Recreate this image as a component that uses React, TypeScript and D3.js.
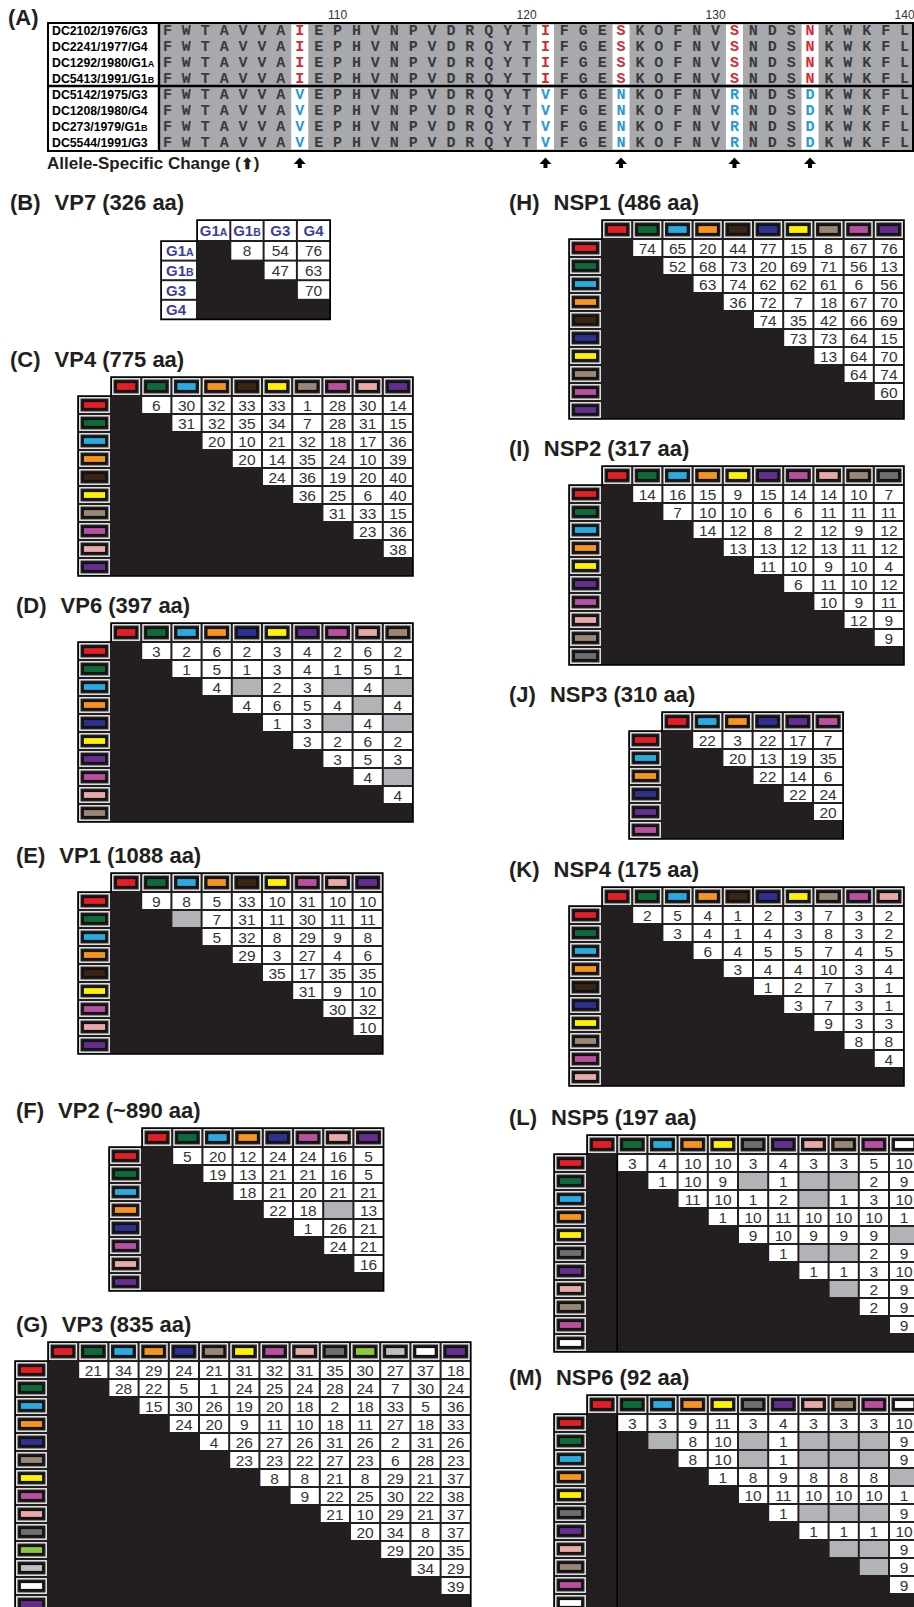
import React from "react";
import * as d3 from "d3";

// ---- panel A: alignment (residues 101-140) ----
const residues = "FWTAVVAIEPHVNPVDRQYTIFGESKOFNVSNDSNKWKFL".split("");
const firstResidue = 101;
const positionTicks = [110, 120, 130, 140];
const group1Strains = ["DC2102/1976/G3", "DC2241/1977/G4", "DC1292/1980/G1A", "DC5413/1991/G1B"];
const group2Strains = ["DC5142/1975/G3", "DC1208/1980/G4", "DC273/1979/G1B", "DC5544/1991/G3"];
const alleleSites = [108, 121, 125, 131, 135];
const group1Alleles = ["I", "I", "S", "S", "N"];
const group2Alleles = ["V", "V", "N", "R", "D"];

// ---- panel B: VP7 ----
const vp7Types = ["G1A", "G1B", "G3", "G4"];
const vp7Values = [[8, 54, 76], [47, 63], [70]];

// ---- gene segment allele matrices (upper triangle, null = grey cell) ----
const vp4Alleles = ["red", "green", "cyan", "orange", "brown", "yellow", "tan", "magenta", "pink", "purple"];
const vp4Values = [
  [6, 30, 32, 33, 33, 1, 28, 30, 14],
  [31, 32, 35, 34, 7, 28, 31, 15],
  [20, 10, 21, 32, 18, 17, 36],
  [20, 14, 35, 24, 10, 39],
  [24, 36, 19, 20, 40],
  [36, 25, 6, 40],
  [31, 33, 15],
  [23, 36],
  [38],
];

const vp6Alleles = ["red", "green", "cyan", "orange", "navy", "yellow", "purple", "magenta", "pink", "tan"];
const vp6Values = [
  [3, 2, 6, 2, 3, 4, 2, 6, 2],
  [1, 5, 1, 3, 4, 1, 5, 1],
  [4, null, 2, 3, null, 4, null],
  [4, 6, 5, 4, null, 4],
  [1, 3, null, 4, null],
  [3, 2, 6, 2],
  [3, 5, 3],
  [4, null],
  [4],
];

const vp1Alleles = ["red", "green", "cyan", "orange", "brown", "yellow", "magenta", "pink", "purple"];
const vp1Values = [
  [9, 8, 5, 33, 10, 31, 10, 10],
  [null, 7, 31, 11, 30, 11, 11],
  [5, 32, 8, 29, 9, 8],
  [29, 3, 27, 4, 6],
  [35, 17, 35, 35],
  [31, 9, 10],
  [30, 32],
  [10],
];

const vp2Alleles = ["red", "green", "cyan", "orange", "navy", "magenta", "pink", "purple"];
const vp2Values = [
  [5, 20, 12, 24, 24, 16, 5],
  [19, 13, 21, 21, 16, 5],
  [18, 21, 20, 21, 21],
  [22, 18, null, 13],
  [1, 26, 21],
  [24, 21],
  [16],
];

const vp3Alleles = ["red", "green", "cyan", "orange", "navy", "tan", "yellow", "magenta", "pink", "dgray", "lime", "lgray", "white", "purple"];
const vp3Values = [
  [21, 34, 29, 24, 21, 31, 32, 31, 35, 30, 27, 37, 18],
  [28, 22, 5, 1, 24, 25, 24, 28, 24, 7, 30, 24],
  [15, 30, 26, 19, 20, 18, 2, 18, 33, 5, 36],
  [24, 20, 9, 11, 10, 18, 11, 27, 18, 33],
  [4, 26, 27, 26, 31, 26, 2, 31, 26],
  [23, 23, 22, 27, 23, 6, 28, 23],
  [8, 8, 21, 8, 29, 21, 37],
  [9, 22, 25, 30, 22, 38],
  [21, 10, 29, 21, 37],
  [20, 34, 8, 37],
  [29, 20, 35],
  [34, 29],
  [39],
];

const nsp1Alleles = ["red", "green", "cyan", "orange", "brown", "navy", "yellow", "tan", "magenta", "purple"];
const nsp1Values = [
  [74, 65, 20, 44, 77, 15, 8, 67, 76],
  [52, 68, 73, 20, 69, 71, 56, 13],
  [63, 74, 62, 62, 61, 6, 56],
  [36, 72, 7, 18, 67, 70],
  [74, 35, 42, 66, 69],
  [73, 73, 64, 15],
  [13, 64, 70],
  [64, 74],
  [60],
];

const nsp2Alleles = ["red", "green", "cyan", "orange", "yellow", "purple", "magenta", "pink", "tan", "dgray"];
const nsp2Values = [
  [14, 16, 15, 9, 15, 14, 14, 10, 7],
  [7, 10, 10, 6, 6, 11, 11, 11],
  [14, 12, 8, 2, 12, 9, 12],
  [13, 13, 12, 13, 11, 12],
  [11, 10, 9, 10, 4],
  [6, 11, 10, 12],
  [10, 9, 11],
  [12, 9],
  [9],
];

const nsp3Alleles = ["red", "cyan", "orange", "navy", "purple", "magenta"];
const nsp3Values = [[22, 3, 22, 17, 7], [20, 13, 19, 35], [22, 14, 6], [22, 24], [20]];

const nsp4Alleles = ["red", "green", "cyan", "orange", "brown", "navy", "yellow", "tan", "magenta", "pink"];
const nsp4Values = [
  [2, 5, 4, 1, 2, 3, 7, 3, 2],
  [3, 4, 1, 4, 3, 8, 3, 2],
  [6, 4, 5, 5, 7, 4, 5],
  [3, 4, 4, 10, 3, 4],
  [1, 2, 7, 3, 1],
  [3, 7, 3, 1],
  [9, 3, 3],
  [8, 8],
  [4],
];

const nsp5Alleles = ["red", "green", "cyan", "orange", "yellow", "dgray", "purple", "pink", "tan", "magenta", "white"];
const nsp5Values = [
  [3, 4, 10, 10, 3, 4, 3, 3, 5, 10],
  [1, 10, 9, null, 1, null, null, 2, 9],
  [11, 10, 1, 2, null, 1, 3, 10],
  [1, 10, 11, 10, 10, 10, 1],
  [9, 10, 9, 9, 9, null],
  [1, null, null, 2, 9],
  [1, 1, 3, 10],
  [null, 2, 9],
  [2, 9],
  [9],
];

const nsp6Alleles = ["red", "green", "cyan", "orange", "yellow", "dgray", "purple", "pink", "tan", "magenta", "white"];
const nsp6Values = [
  [3, 3, 9, 11, 3, 4, 3, 3, 3, 10],
  [null, 8, 10, null, 1, null, null, null, 9],
  [8, 10, null, 1, null, null, null, 9],
  [1, 8, 9, 8, 8, 8, null],
  [10, 11, 10, 10, 10, 1],
  [1, null, null, null, 9],
  [1, 1, 1, 10],
  [null, null, 9],
  [null, 9],
  [9],
];

const swatch = {
  red: "#e31e24", green: "#0f6a3a", cyan: "#29abe2", orange: "#f7941d", brown: "#3c2415",
  navy: "#2e3192", yellow: "#fff200", tan: "#998675", magenta: "#b94fa0", pink: "#e9a9a8",
  purple: "#662d91", dgray: "#6d6e71", lime: "#8dc63f", lgray: "#bcbec0", white: "#ffffff",
};

const SANS = "'Liberation Sans', Arial, Helvetica, sans-serif";
const MONO = "'Liberation Mono', 'Courier New', monospace";
const INK = "#231f20";
const GREY_CELL = "#b1b3b6";

const panels = [
  { tag: "(C)", name: "VP4 (775 aa)", alleles: vp4Alleles, values: vp4Values, tx: 10, x0: 111, y0: 377 },
  { tag: "(D)", name: "VP6 (397 aa)", alleles: vp6Alleles, values: vp6Values, tx: 16, x0: 111, y0: 623 },
  { tag: "(E)", name: "VP1 (1088 aa)", alleles: vp1Alleles, values: vp1Values, tx: 16, x0: 111, y0: 873 },
  { tag: "(F)", name: "VP2 (~890 aa)", alleles: vp2Alleles, values: vp2Values, tx: 16, x0: 142, y0: 1128 },
  { tag: "(G)", name: "VP3 (835 aa)", alleles: vp3Alleles, values: vp3Values, tx: 16, x0: 48, y0: 1342 },
  { tag: "(H)", name: "NSP1 (486 aa)", alleles: nsp1Alleles, values: nsp1Values, tx: 509, x0: 602, y0: 220 },
  { tag: "(I)", name: "NSP2 (317 aa)", alleles: nsp2Alleles, values: nsp2Values, tx: 509, x0: 602, y0: 466 },
  { tag: "(J)", name: "NSP3 (310 aa)", alleles: nsp3Alleles, values: nsp3Values, tx: 509, x0: 662, y0: 712 },
  { tag: "(K)", name: "NSP4 (175 aa)", alleles: nsp4Alleles, values: nsp4Values, tx: 509, x0: 602, y0: 887 },
  { tag: "(L)", name: "NSP5 (197 aa)", alleles: nsp5Alleles, values: nsp5Values, tx: 509, x0: 587, y0: 1135, split: true },
  { tag: "(M)", name: "NSP6 (92 aa)", alleles: nsp6Alleles, values: nsp6Values, tx: 509, x0: 587, y0: 1395, split: true },
];

function Title({ tag, name, x, y }) {
  return (
    <text x={x} y={y} fontFamily={SANS} fontSize={22} fontWeight="bold" fill={INK}>
      <tspan>{tag}</tspan>
      <tspan dx={14}>{name}</tspan>
    </text>
  );
}

function Swatch({ x, y, w, h, color }) {
  return (
    <g>
      <rect x={x + 1.8} y={y + 1.8} width={w - 3.6} height={h - 3.6} fill="none" stroke="#e6e6e6" strokeWidth={1.5} />
      <rect x={x + 5} y={y + 5.2} width={w - 10} height={h - 10.4} fill={color} stroke="#111" strokeWidth={1.8} />
    </g>
  );
}

function Matrix({ p }) {
  const cw = 30.2, hh = 19, rh = 18, lw = 33;
  const n = p.alleles.length;
  const x = d3.scaleBand().domain(d3.range(n)).range([p.x0, p.x0 + n * cw]);
  const y = d3.scaleBand().domain(d3.range(n)).range([p.y0 + hh, p.y0 + hh + n * rh]);
  const right = p.x0 + n * cw;
  const bottom = p.y0 + hh + n * rh;
  const outline = d3.path();
  outline.moveTo(p.x0, p.y0);
  outline.lineTo(right, p.y0);
  outline.lineTo(right, bottom);
  outline.lineTo(p.x0 - lw, bottom);
  outline.lineTo(p.x0 - lw, p.y0 + hh);
  outline.lineTo(p.x0, p.y0 + hh);
  outline.closePath();

  return (
    <g>
      <Title tag={p.tag} name={p.name} x={p.tx} y={p.y0 - 10} />
      <path d={outline.toString()} fill={INK} stroke="#000" strokeWidth={1.6} />
      {p.split && (
        <line x1={p.x0 + cw} x2={p.x0 + cw} y1={p.y0 + hh} y2={bottom} stroke="#000" strokeWidth={1.6} />
      )}
      {p.alleles.map((a, j) => (
        <Swatch key={`h${j}`} x={x(j)} y={p.y0} w={cw} h={hh} color={swatch[a]} />
      ))}
      {p.alleles.map((a, i) => (
        <Swatch key={`r${i}`} x={p.x0 - lw} y={y(i)} w={lw} h={rh} color={swatch[a]} />
      ))}
      {p.values.map((row, i) =>
        row.map((v, k) => {
          const j = i + 1 + k;
          return (
            <g key={`c${i}-${j}`}>
              <rect x={x(j) + 1} y={y(i) + 1} width={cw - 2} height={rh - 2} fill={v == null ? GREY_CELL : "#fff"} />
              {v != null && (
                <text x={x(j) + cw / 2} y={y(i) + rh / 2 + 5.6} textAnchor="middle" fontFamily={SANS} fontSize={15.5} fill="#333">
                  {v}
                </text>
              )}
            </g>
          );
        })
      )}
    </g>
  );
}

function TypeLabel({ label, x, y, anchor }) {
  const base = label.length > 2 ? label.slice(0, 2) : label;
  const sub = label.length > 2 ? label.slice(2) : null;
  return (
    <text x={x} y={y} textAnchor={anchor} fontFamily={SANS} fontSize={15} fontWeight="bold" fill="#3b3f98">
      {base}
      {sub && <tspan fontSize={10.5}>{sub}</tspan>}
    </text>
  );
}

function Vp7Table() {
  const x0 = 197, y0 = 220, cw = 33.3, hh = 21, rh = 19.6, lw = 36;
  const n = vp7Types.length;
  const x = d3.scaleBand().domain(d3.range(n)).range([x0, x0 + n * cw]);
  const y = d3.scaleBand().domain(d3.range(n)).range([y0 + hh, y0 + hh + n * rh]);
  const right = x0 + n * cw, bottom = y0 + hh + n * rh;
  const outline = `M${x0},${y0}H${right}V${bottom}H${x0 - lw}V${y0 + hh}H${x0}Z`;
  return (
    <g>
      <Title tag="(B)" name="VP7 (326 aa)" x={10} y={y0 - 10} />
      <path d={outline} fill={INK} stroke="#000" strokeWidth={1.6} />
      {vp7Types.map((t, j) => (
        <g key={`h${j}`}>
          <rect x={x(j) + 1} y={y0 + 1} width={cw - 2} height={hh - 2} fill="#fff" />
          <TypeLabel label={t} x={x(j) + cw / 2} y={y0 + hh / 2 + 5.5} anchor="middle" />
        </g>
      ))}
      {vp7Types.map((t, i) => (
        <g key={`r${i}`}>
          <rect x={x0 - lw + 1} y={y(i) + 1} width={lw - 2} height={rh - 2} fill="#fff" />
          <TypeLabel label={t} x={x0 - lw + 5} y={y(i) + rh / 2 + 5.5} anchor="start" />
        </g>
      ))}
      {vp7Values.map((row, i) =>
        row.map((v, k) => {
          const j = i + 1 + k;
          return (
            <g key={`c${i}-${j}`}>
              <rect x={x(j) + 1} y={y(i) + 1} width={cw - 2} height={rh - 2} fill="#fff" />
              <text x={x(j) + cw / 2} y={y(i) + rh / 2 + 5.6} textAnchor="middle" fontFamily={SANS} fontSize={15.5} fill="#333">
                {v}
              </text>
            </g>
          );
        })
      )}
    </g>
  );
}

function Alignment() {
  const boxL = 48, labR = 159, boxR = 913;
  const top = 23, mid = 86, bot = 151;
  const x = d3.scaleBand().domain(d3.range(firstResidue, firstResidue + residues.length)).range([158, 914]);
  const bw = x.bandwidth();
  const cx = (pos) => x(pos) + bw / 2;
  const groups = [
    { strains: group1Strains, alleles: group1Alleles, y: d3.scaleBand().domain(d3.range(4)).range([top, mid]), color: "#d7282f" },
    { strains: group2Strains, alleles: group2Alleles, y: d3.scaleBand().domain(d3.range(4)).range([mid, bot]), color: "#1f9bd7" },
  ];
  return (
    <g>
      <text x={8} y={25} fontFamily={SANS} fontSize={22} fontWeight="bold" fill={INK}>(A)</text>
      {positionTicks.map((t) => (
        <text key={t} x={cx(t)} y={19} textAnchor="middle" fontFamily={SANS} fontSize={12} fill="#333">{t}</text>
      ))}
      <rect x={labR} y={top} width={boxR - labR} height={bot - top} fill="#a7a9ac" />
      <rect x={boxL} y={top} width={labR - boxL} height={bot - top} fill="#fff" />
      {groups.map((g, gi) => {
        const [g0, g1] = g.y.range();
        return (
          <g key={gi}>
            {alleleSites.map((s) => (
              <rect key={s} x={cx(s) - 8.5} y={g0 + 1.5} width={17} height={g1 - g0 - 3} fill="#fff" />
            ))}
            {g.strains.map((s, i) => {
              const yy = g.y(i) + g.y.bandwidth() / 2;
              const base = s.endsWith("A") || s.endsWith("B") ? s.slice(0, -1) : s;
              const sub = base === s ? null : s.slice(-1);
              return (
                <g key={s}>
                  <text x={52} y={yy + 4.4} fontFamily={SANS} fontSize={12.3} fontWeight="bold" fill="#000">
                    {base}
                    {sub && <tspan fontSize={9}>{sub}</tspan>}
                  </text>
                  {residues.map((r, k) => {
                    const pos = firstResidue + k;
                    const si = alleleSites.indexOf(pos);
                    const letter = si >= 0 ? g.alleles[si] : r;
                    return (
                      <text key={k} x={cx(pos)} y={yy + 4.6} textAnchor="middle" fontFamily={MONO} fontSize={15}
                        fontWeight="bold" fill={si >= 0 ? g.color : "#3a3a3a"}>
                        {letter}
                      </text>
                    );
                  })}
                </g>
              );
            })}
          </g>
        );
      })}
      <rect x={boxL} y={top} width={boxR - boxL} height={bot - top} fill="none" stroke="#000" strokeWidth={2} />
      <line x1={boxL} x2={boxR} y1={mid} y2={mid} stroke="#000" strokeWidth={2.6} />
      <line x1={labR} x2={labR} y1={top} y2={bot} stroke="#000" strokeWidth={2.4} />
      {alleleSites.map((s) => (
        <path key={s} d={`M${cx(s)},157.5L${cx(s) + 6},164L${cx(s) + 2},164L${cx(s) + 2},168L${cx(s) - 2},168L${cx(s) - 2},164L${cx(s) - 6},164Z`} fill="#000" />
      ))}
      <text x={47} y={169} fontFamily={SANS} fontSize={17} fontWeight="bold" fill={INK}>
        Allele-Specific Change (<tspan fontSize={15}>⬆</tspan>)
      </text>
    </g>
  );
}

export default function App() {
  return (
    <svg width={914} height={1607} style={{ position: "absolute", left: 0, top: 0, display: "block", background: "#fff" }}>
      <Alignment />
      <Vp7Table />
      {panels.map((p) => (
        <Matrix key={p.tag} p={p} />
      ))}
    </svg>
  );
}
